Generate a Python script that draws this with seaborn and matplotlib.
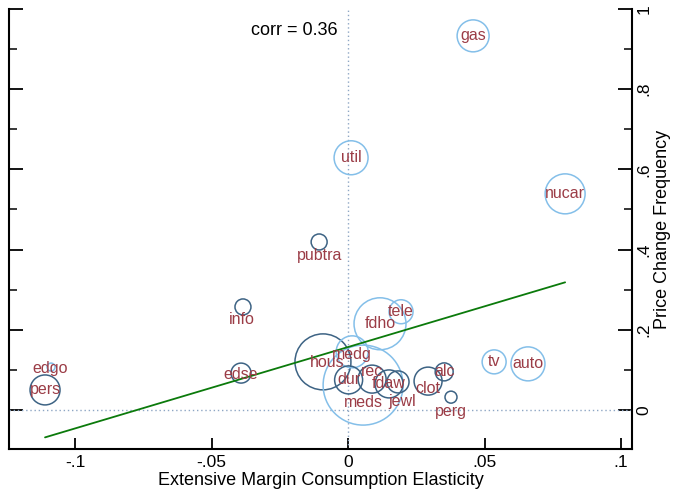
import numpy as np
import pandas as pd
import matplotlib
matplotlib.use("Agg")
import matplotlib.pyplot as plt
import seaborn as sns
from matplotlib.ticker import FixedLocator

# ---------------- data ----------------
categories = ["gas", "nucar", "util", "pubtra", "info", "tele", "fdho", "hous",
              "medg", "meds", "dur", "rec", "fdaw", "jewl", "clot", "alc",
              "perg", "tv", "auto", "edse", "pers", "edgo"]
elasticity = [0.0458, 0.0795, 0.0011, -0.0106, -0.0385, 0.0194, 0.0117, -0.0092,
              0.0015, 0.0055, 0.0002, 0.0088, 0.0150, 0.0183, 0.0293, 0.0352,
              0.0377, 0.0535, 0.0659, -0.0392, -0.1110, -0.1088]
frequency = [0.933, 0.539, 0.629, 0.419, 0.257, 0.245, 0.215, 0.120,
             0.145, 0.062, 0.075, 0.077, 0.065, 0.070, 0.072, 0.095,
             0.032, 0.120, 0.115, 0.092, 0.050, 0.107]
weight = [256, 400, 289, 64, 64, 144, 676, 784,
          256, 1600, 196, 196, 196, 121, 196, 81,
          36, 144, 289, 100, 225, 16]
group = ["B", "B", "B", "A", "A", "B", "B", "A",
         "B", "B", "A", "A", "A", "A", "A", "A",
         "A", "B", "B", "A", "A", "B"]
fit_intercept = 0.157
fit_slope = 2.03
corr_text = "corr = 0.36"
x_ticks = [-0.1, -0.05, 0.0, 0.05, 0.1]
x_ticklabels = ["-.1", "-.05", "0", ".05", ".1"]
y_ticks = [0.0, 0.2, 0.4, 0.6, 0.8, 1.0]
y_ticklabels = ["0", ".2", ".4", ".6", ".8", "1"]
y_minor = [0.1, 0.3, 0.5, 0.7, 0.9]
x_title = "Extensive Margin Consumption Elasticity"
y_title = "Price Change Frequency"

# label offsets (pixels, +down) for labels not centred on their marker
label_dx = [0, 0, 0, 0, -1, 0, 0, 4, 0, 0, 0, 0, 0, 4, 0, 0, 0, 0, 0, 0, 0, -1]
label_dy = [0, 0, 0, 14, 13, 0, 0, 1, 3, 17, 0, -8, 0, 20, 7, 0, 14, 0, 0, 1, 0, 1]

# ---------------- style ----------------
sns.set_theme(style="white")
plt.rcParams['font.family'] = ['Liberation Sans', 'DejaVu Sans']
plt.rcParams['text.color'] = 'black'
plt.rcParams['axes.labelcolor'] = 'black'
plt.rcParams['xtick.color'] = 'black'
plt.rcParams['ytick.color'] = 'black'

DARK = "#3d6384"
LIGHT = "#84bfe9"
LABEL = "#9b3c46"
GREEN = "#0b7a0b"
REF = "#8ea6c4"

df = pd.DataFrame({"cat": categories, "x": elasticity, "y": frequency,
                   "w": weight, "g": group})
df["s"] = df["w"] * 2.07

fig = plt.figure(figsize=(6.74, 4.90), dpi=100)
ax = fig.add_axes([9 / 674, 41 / 490, 623 / 674, 440 / 490])

# reference lines
ax.axvline(0, color=REF, lw=1.0, ls=(0, (1, 2)), zorder=1)
ax.axhline(0, color=REF, lw=1.0, ls=(0, (1, 2)), zorder=1)

smin, smax = df["s"].min(), df["s"].max()
sns.scatterplot(data=df, x="x", y="y", hue="g", size="s",
                sizes=(smin, smax), size_norm=(smin, smax),
                palette={"A": DARK, "B": LIGHT}, legend=False,
                linewidth=1.1, ax=ax, zorder=3)
pc = ax.collections[-1]
fc = pc.get_facecolors()
pc.set_edgecolors(fc)
pc.set_facecolors("none")

# fitted line across the data range
xl = np.array([min(elasticity), max(elasticity)])
sns.lineplot(x=xl, y=fit_intercept + fit_slope * xl, color=GREEN, lw=1.3,
             ax=ax, zorder=4)

for c, xv, yv, dx, dy in zip(categories, elasticity, frequency, label_dx, label_dy):
    ax.annotate(c, (xv, yv), xytext=(dx * 0.72, -dy * 0.72),
                textcoords="offset points", ha="center", va="center",
                color=LABEL, fontsize=11.5, zorder=5)

ax.text(0.527, 0.952, corr_text, transform=ax.transAxes, ha="right",
        va="center", fontsize=13, color="black")

ax.set_xlim(-0.1242, 0.1040)
ax.set_ylim(-0.0973, 1.0)

ax.set_xticks(x_ticks)
ax.set_xticklabels(x_ticklabels)
ax.set_yticks(y_ticks)
ax.set_yticklabels(y_ticklabels)
ax.yaxis.set_minor_locator(FixedLocator(y_minor))

ax.tick_params(axis="x", which="major", direction="in", length=8, width=1.3,
               bottom=True, top=False, labelsize=12.5, pad=4,
               colors="black", labelcolor="black")
ax.tick_params(axis="y", which="major", direction="in", length=10, width=1.3,
               left=True, right=True, labelleft=False, labelright=True,
               labelsize=12.5, pad=3, labelrotation=90,
               colors="black", labelcolor="black")
ax.tick_params(axis="y", which="minor", direction="in", length=6, width=1.1,
               left=True, right=True, colors="black")
for lab in ax.get_yticklabels():
    lab.set_verticalalignment("center")

ax.yaxis.set_label_position("right")
ax.set_xlabel(x_title, fontsize=13, labelpad=2, color="black")
ax.set_ylabel(y_title, fontsize=13, labelpad=2, rotation=90, color="black")

for side in ["left", "right", "bottom"]:
    ax.spines[side].set_visible(True)
    ax.spines[side].set_color("black")
    ax.spines[side].set_linewidth(1.5)
ax.spines["top"].set_visible(False)

fig.savefig("out.png", dpi=100)
